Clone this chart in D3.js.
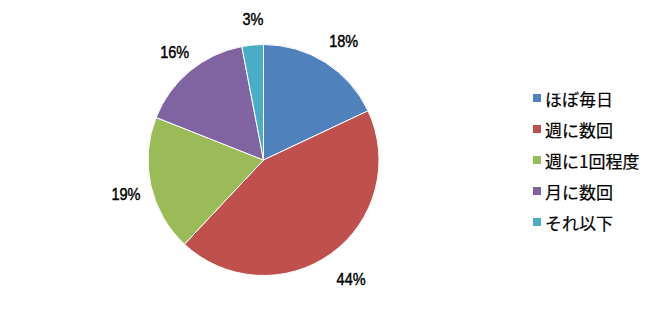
<!DOCTYPE html>
<html><head><meta charset="utf-8">
<script src="https://cdn.jsdelivr.net/npm/d3@7"></script>
<style>body{margin:0;background:#fff}</style>
</head><body>
<script>
const categories = ["ほぼ毎日", "週に数回", "週に1回程度", "月に数回", "それ以下"];
const values = [18, 44, 19, 16, 3];
const colors = ["#4F81BD", "#C0504D", "#9BBB59", "#8064A2", "#4BACC6"];

const W = 666, H = 318;
const svg = d3.select("body").append("svg").attr("width", W).attr("height", H);
const cx = 263.5, cy = 160, R = 115.5, RL = 144;

const pie = d3.pie().sort(null).value(d => d)(values);
const arc = d3.arc().innerRadius(0).outerRadius(R);
const g = svg.append("g").attr("transform", `translate(${cx},${cy})`);
g.selectAll("path").data(pie).join("path")
  .attr("d", arc).attr("fill", (d, i) => colors[i])
  .attr("stroke", "#fff").attr("stroke-width", 1);

const labelArc = d3.arc().innerRadius(RL).outerRadius(RL);
g.selectAll("g.lbl").data(pie).join("g").attr("class", "lbl")
  .attr("transform", d => { const c = labelArc.centroid(d); return `translate(${c[0] + 3},${c[1] + 3})`; })
  .append("text")
  .attr("transform", "scale(0.88,1)")
  .attr("text-anchor", "middle").attr("dominant-baseline", "central")
  .attr("font-family", "'Liberation Sans', Arial, sans-serif")
  .attr("font-size", 16.5).attr("fill", "#000")
  .attr("stroke", "#000").attr("stroke-width", 0.45)
  .text(d => d.data + "%");

const lg = svg.append("g").attr("transform", "translate(533,98)");
const items = lg.selectAll("g").data(categories).join("g")
  .attr("transform", (d, i) => `translate(0,${i * 31})`);
items.append("rect").attr("x", 0).attr("y", -4).attr("width", 8).attr("height", 8)
  .attr("fill", (d, i) => colors[i]);
items.append("text").attr("x", 12).attr("dominant-baseline", "central")
  .attr("font-family", "'Noto Sans CJK JP', sans-serif").attr("font-size", 17)
  .attr("fill", "#000").attr("stroke", "#000").attr("stroke-width", 0.2).text(d => d);
</script>
</body></html>
